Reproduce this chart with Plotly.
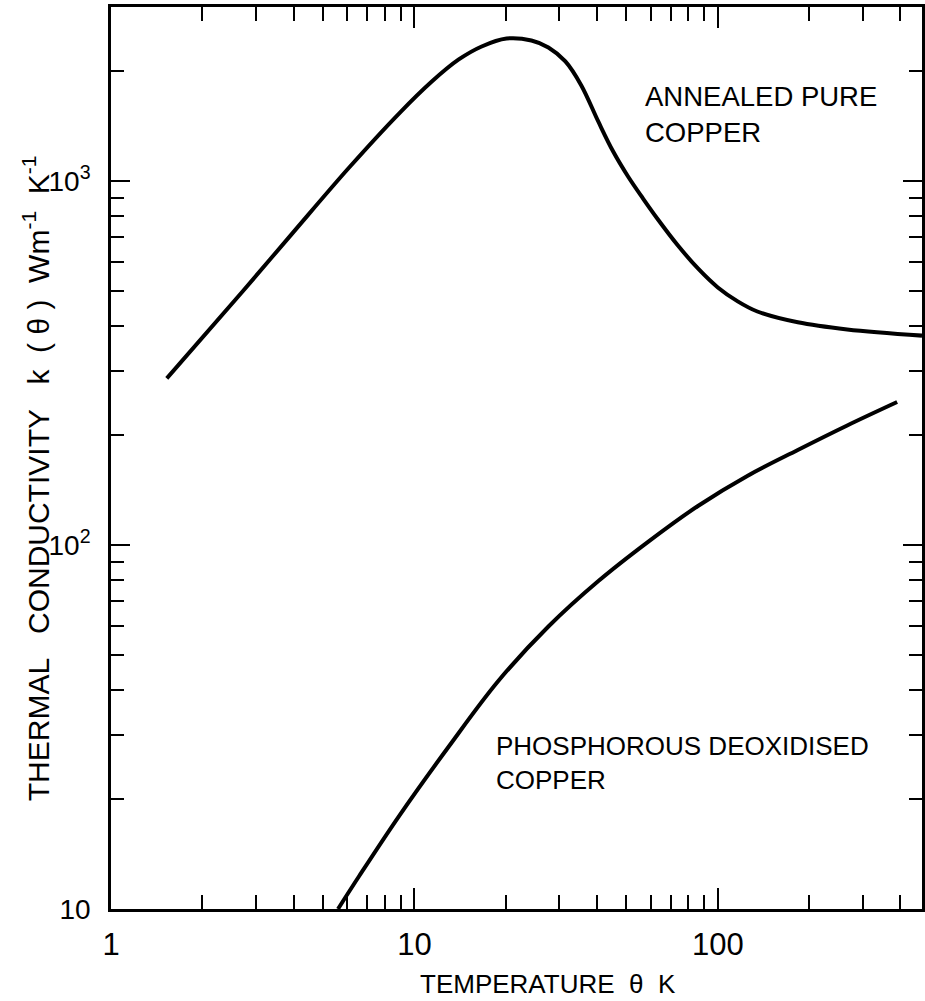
import plotly.graph_objects as go

# ---- data ----
annealed_T = [1.527, 2.714, 3.96, 6.095, 8.896, 11.41, 14.0, 16.66, 20.13, 24.31, 27.65, 31.45, 35.49,
              40.36, 45.2, 50.6, 56.7, 63.5, 73.9, 86.0, 100, 116.3, 135, 183.5, 267, 471]
annealed_k = [287, 497, 718, 1089, 1532, 1876, 2157, 2342, 2463, 2432, 2327, 2130, 1830,
              1457, 1205, 1029, 895, 784, 665, 575, 510, 467, 438, 409, 391, 376]

phos_T = [5.6, 6.57, 8.9, 13.0, 18.9, 27.7, 40.4, 58.9, 86.0, 125.5, 183.5, 267, 390]
phos_k = [10.0, 12.3, 18.0, 28.0, 42.3, 59.8, 79.6, 102, 128, 155, 182.4, 213, 247]

x_major = [1, 10, 100]
x_major_text = ["1", "10", "100"]
x_minor = [2, 3, 4, 5, 6, 7, 8, 9, 20, 30, 40, 50, 60, 70, 80, 90, 200, 300, 400]
y_major = [10, 100, 1000]
y_major_text = ["10", "10<sup>2</sup>", "10<sup>3</sup>"]
y_minor = [20, 30, 40, 50, 60, 70, 80, 90, 200, 300, 400, 500, 600, 700, 800, 900, 2000]

label_annealed = "ANNEALED PURE<br>COPPER"
label_phos = "PHOSPHOROUS DEOXIDISED<br>COPPER"
x_title = "TEMPERATURE  θ  K"
y_title = "THERMAL   CONDUCTIVITY   k  ( θ )  Wm<sup>-1</sup>  K<sup>-1</sup>"

# ---- figure ----
W, H = 925, 1001
ML, MT, MB, MR = 111, 7, 92, 0
x_range = [0, 2.673]
y_range = [1, 3.478]

TXT = "Liberation Sans, Arial, sans-serif"

fig = go.Figure()
for xs, ys in ((annealed_T, annealed_k), (phos_T, phos_k)):
    fig.add_trace(go.Scatter(x=xs, y=ys, mode="lines",
                             line=dict(color="black", width=4, shape="spline", smoothing=1.0),
                             showlegend=False, hoverinfo="skip"))

fig.update_layout(
    width=W, height=H,
    margin=dict(l=ML, r=MR, t=MT, b=MB),
    paper_bgcolor="white", plot_bgcolor="white",
    showlegend=False,
    xaxis=dict(type="log", range=x_range, showline=True, mirror="ticks", linecolor="black", linewidth=2.6,
               showgrid=False, zeroline=False, tickvals=x_major, ticktext=x_major_text,
               ticks="inside", ticklen=21, tickwidth=2.2, tickcolor="black",
               minor=dict(tickvals=x_minor, ticks="inside", ticklen=14, tickwidth=2.2,
                          tickcolor="black", showgrid=False),
               tickfont=dict(family=TXT, size=31, color="black"), ticklabelstandoff=6),
    yaxis=dict(type="log", range=y_range, showline=True, mirror="ticks", linecolor="black", linewidth=2.6,
               showgrid=False, zeroline=False, tickvals=y_major, ticktext=y_major_text,
               ticks="inside", ticklen=19, tickwidth=2.2, tickcolor="black",
               minor=dict(tickvals=y_minor, ticks="inside", ticklen=13, tickwidth=2.2,
                          tickcolor="black", showgrid=False),
               tickfont=dict(family=TXT, size=28, color="black"), ticklabelstandoff=12),
)

def px_x(px):
    return (px - ML) / (W - ML - MR)

def px_y(py):
    return (H - MB - py) / (H - MB - MT)

fig.add_annotation(text=label_annealed, xref="paper", yref="paper", x=px_x(645), y=px_y(114),
                   xanchor="left", yanchor="middle", align="left", showarrow=False,
                   font=dict(family=TXT, size=27.5, color="black"))
fig.add_annotation(text=label_phos, xref="paper", yref="paper", x=px_x(495), y=px_y(763),
                   xanchor="left", yanchor="middle", align="left", showarrow=False,
                   font=dict(family=TXT, size=26, color="black"))
fig.add_annotation(text=x_title, xref="paper", yref="paper", x=px_x(550), y=px_y(984),
                   xanchor="center", yanchor="middle", showarrow=False,
                   font=dict(family=TXT, size=26, color="black"))
fig.add_annotation(text=y_title, xref="paper", yref="paper", x=px_x(36), y=px_y(478),
                   xanchor="center", yanchor="middle", textangle=-90, showarrow=False,
                   font=dict(family=TXT, size=30, color="black"))

fig.write_html("out.html", config={"displayModeBar": False},
               post_script="document.body.style.margin='0px';document.body.style.padding='0px';")
